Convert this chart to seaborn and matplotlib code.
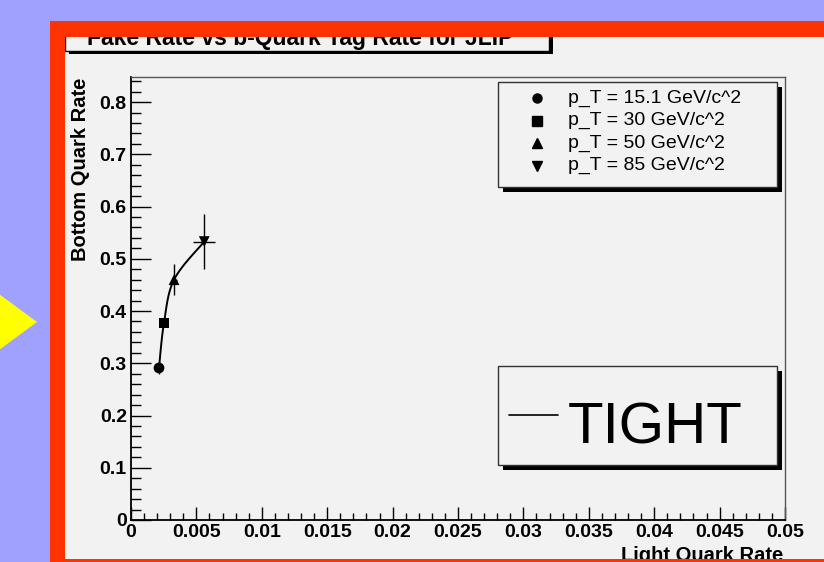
import matplotlib
matplotlib.use("Agg")
import matplotlib.pyplot as plt
import seaborn as sns
import pandas as pd
import numpy as np
from matplotlib.patches import Rectangle, Polygon
from matplotlib.lines import Line2D
from matplotlib.ticker import MultipleLocator, FuncFormatter

# Data
pt_labels = ["p_T = 15.1 GeV/c^2", "p_T = 30 GeV/c^2", "p_T = 50 GeV/c^2", "p_T = 85 GeV/c^2"]
pt_markers = ["o", "s", "^", "v"]
light_rate = [0.00214, 0.00252, 0.00329, 0.00560]
bottom_rate = [0.291, 0.377, 0.460, 0.533]
light_err = [0.0001, 0.0001, 0.0002, 0.00085]
bottom_err = [0.012, 0.006, 0.030, 0.052]
title = "Fake Rate vs b-Quark Tag Rate for JLIP"
curve_label = "TIGHT"

W, H = 824, 562
LAV, RED, PANEL, YEL = "#A0A0FF", "#FF3300", "#F2F2F2", "#FFFF00"

sns.set_style("ticks")
plt.rcParams["font.family"] = ["Liberation Sans", "DejaVu Sans"]
plt.rcParams["text.color"] = "black"
plt.rcParams["xtick.color"] = "black"
plt.rcParams["ytick.color"] = "black"
plt.rcParams["xtick.labelcolor"] = "black"
plt.rcParams["ytick.labelcolor"] = "black"

fig = plt.figure(figsize=(W / 100, H / 100), dpi=100, facecolor=LAV)


def prect(x0, y0, x1, y1, **kw):
    # rectangle given in pixel coords, origin top-left
    r = Rectangle((x0 / W, 1 - y1 / H), (x1 - x0) / W, (y1 - y0) / H,
                  transform=fig.transFigure, **kw)
    fig.add_artist(r)
    return r


def ptxt(x, y, s, **kw):
    return fig.text(x / W, 1 - y / H, s, color="black", **kw)


# background decorations
fig.add_artist(Polygon([(-20 / W, 1 - 280 / H), (37 / W, 1 - 322 / H), (-20 / W, 1 - 364 / H)],
                       closed=True, transform=fig.transFigure, facecolor=YEL, edgecolor="none", zorder=-5))
prect(65, 30, 830, 560, facecolor=PANEL, edgecolor="none", zorder=-4)

# title box (its top is hidden under the red frame)
prect(69, 29, 553, 54, facecolor="black", edgecolor="none", zorder=-3)
prect(65, 25, 549, 51, facecolor=PANEL, edgecolor="black", lw=1, zorder=-2)
ptxt(87, 45, title, fontsize=16.5, fontweight="bold", ha="left", va="baseline", zorder=-1)

# main axes
ax = fig.add_axes([131 / W, (H - 520) / H, 654 / W, 443 / H])
ax.set_facecolor("none")

df = pd.DataFrame({"light": light_rate, "bottom": bottom_rate, "pt": pt_labels})


def catmull_rom(xs, ys, n=40):
    p = np.column_stack([np.asarray(xs) / 0.05, np.asarray(ys) / 0.85])
    p = np.vstack([p[0], p, p[-1]])
    t = np.linspace(0, 1, n)[:, None]
    segs = []
    for i in range(1, len(p) - 2):
        p0, p1, p2, p3 = p[i - 1], p[i], p[i + 1], p[i + 2]
        segs.append(0.5 * (2 * p1 + (-p0 + p2) * t + (2 * p0 - 5 * p1 + 4 * p2 - p3) * t ** 2
                           + (-p0 + 3 * p1 - 3 * p2 + p3) * t ** 3))
    c = np.vstack(segs)
    return c[:, 0] * 0.05, c[:, 1] * 0.85


cx, cy = catmull_rom(df["light"], df["bottom"])
sns.lineplot(x=cx, y=cy, sort=False, estimator=None, color="black", lw=1.4, ax=ax, zorder=2)
ax.errorbar(df["light"], df["bottom"], xerr=light_err, yerr=bottom_err, fmt="none",
            ecolor="black", elinewidth=1, capsize=0, zorder=2)
sns.scatterplot(data=df, x="light", y="bottom", style="pt", markers=dict(zip(pt_labels, pt_markers)),
                color="black", s=60, linewidth=0, legend=False, ax=ax, zorder=3)

ax.set_xlim(0, 0.05)
ax.set_ylim(0, 0.848)
ax.set_xlabel("")
ax.set_ylabel("")
ax.xaxis.set_major_locator(MultipleLocator(0.005))
ax.xaxis.set_minor_locator(MultipleLocator(0.001))
ax.yaxis.set_major_locator(MultipleLocator(0.1))
ax.yaxis.set_minor_locator(MultipleLocator(0.02))
fmt = FuncFormatter(lambda v, p: f"{v:g}")
ax.xaxis.set_major_formatter(fmt)
ax.yaxis.set_major_formatter(fmt)
ax.tick_params(axis="both", which="both", direction="in", color="black", labelcolor="black",
               width=1, top=False, right=False, labelsize=14)
ax.tick_params(axis="y", which="major", length=14.4, pad=3)
ax.tick_params(axis="y", which="minor", length=7.2)
ax.tick_params(axis="x", which="major", length=9.4, pad=3)
ax.tick_params(axis="x", which="minor", length=5)
for lab in ax.get_xticklabels() + ax.get_yticklabels():
    lab.set_fontweight("bold")
for s in ["left", "bottom"]:
    ax.spines[s].set_color("black")
    ax.spines[s].set_linewidth(1.3)
for s in ["top", "right"]:
    ax.spines[s].set_color("#555555")
    ax.spines[s].set_linewidth(1)

ptxt(80, 78, "Bottom Quark Rate", fontsize=14.5, fontweight="bold", rotation=90, ha="center", va="top")
ptxt(783, 546, "Light Quark Rate", fontsize=14.5, fontweight="bold", ha="right", va="top")

# marker legend box
prect(503, 87, 782, 192, facecolor="black", edgecolor="none", zorder=4)
prect(498, 82, 777, 187, facecolor=PANEL, edgecolor="#333333", lw=1, zorder=5)
for i, (lab, mk) in enumerate(zip(pt_labels, pt_markers)):
    yy = 98 + i * 22.5
    fig.add_artist(Line2D([537 / W], [1 - yy / H], marker=mk, color="black", markersize=6.5,
                          linestyle="none", transform=fig.transFigure, zorder=6))
    ptxt(568, yy, lab, fontsize=14, ha="left", va="center", zorder=6)

# curve legend box
prect(503, 371, 782, 470, facecolor="black", edgecolor="none", zorder=4)
prect(498, 366, 777, 465, facecolor=PANEL, edgecolor="#333333", lw=1, zorder=5)
fig.add_artist(Line2D([509 / W, 558 / W], [1 - 415 / H, 1 - 415 / H], color="black", lw=1.2,
                      transform=fig.transFigure, zorder=6))
ptxt(568, 443, curve_label, fontsize=42, ha="left", va="baseline", zorder=6)

# red frame on top
prect(50, 21, 830, 37, facecolor=RED, edgecolor="none", zorder=10)
prect(50, 21, 65, 570, facecolor=RED, edgecolor="none", zorder=10)
prect(50, 559, 830, 570, facecolor=RED, edgecolor="none", zorder=10)

fig.savefig("out.png", dpi=100, facecolor=LAV)
